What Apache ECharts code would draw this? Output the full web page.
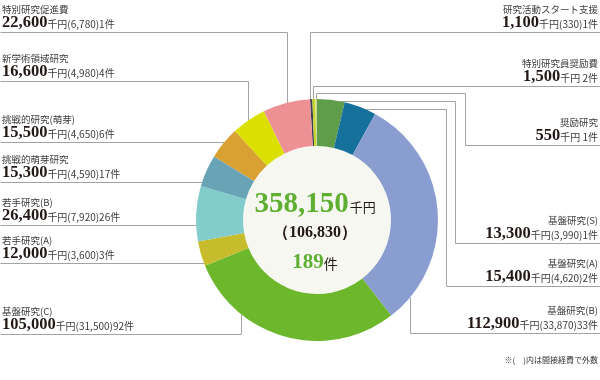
<!DOCTYPE html>
<html><head><meta charset="utf-8">
<script src="https://cdn.jsdelivr.net/npm/echarts@6/dist/echarts.min.js"></script>
<style>html,body{margin:0;padding:0;background:#fff}#c{width:600px;height:380px}</style>
</head><body><div id="c"></div>
<script>
// ---- data (clockwise from top) ----
const names = ['研究活動スタート支援','特別研究員奨励費','奨励研究','基盤研究(S)','基盤研究(A)','基盤研究(B)','基盤研究(C)','若手研究(A)','若手研究(B)','挑戦的萌芽研究','挑戦的研究(萌芽)','新学術領域研究','特別研究促進費'];
const amounts = [1100,1500,550,13300,15400,112900,105000,12000,26400,15300,15500,16600,22600];
const indirect = [330,null,null,3990,4620,33870,31500,3600,7920,4590,4650,4980,6780];
const counts = [1,2,1,1,2,33,92,3,26,17,6,4,1];
const colors = ['#3b3f58','#c3d52c','#e2e89a','#5f9d4b','#15709b','#8a9dd0','#6db72d','#c7bc2b','#82cdcc','#68a4b6','#d9a132','#dbe000','#ee9195'];
const unitLabel = '千円', countLabel = '件';
const noteText = '※(　)内は間接経費で外数';

// ---- layout (positions only) ----
const CX = 317, CY = 220, R = 121, R0 = 74;
const sides = ['R','R','R','R','R','R','L','L','L','L','L','L','L'];
const underlineY = [32,86,145,243,286,333,334,263,225,182,142,81,32];
const leaders = [
  [[600,32],[310,32],'v'],
  [[600,86],[313,86],'v'],
  [[600,145],[465,145],[465,93],[316,93],'v'],
  [[600,243],[455,243],[455,101],'hR'],
  [[600,286],[446,286],[446,109],'hR'],
  [[600,333],[410,333],'vB'],
  [[0,334],[241,334],'vB'],
  [[0,263],'hL'],
  [[0,225],'hL'],
  [[0,182],'hL'],
  [[0,142],'hL'],
  [[0,81],[248,81],'v'],
  [[0,32],[287,32],'v']
];

const fmt = n => n.toLocaleString('en-US');
const totalAmount = amounts.reduce((a,b)=>a+b,0);
const totalIndirect = indirect.reduce((a,b)=>a+(b||0),0);
const totalCount = counts.reduce((a,b)=>a+b,0);

const SANS = '"Noto Sans CJK JP","Noto Sans",sans-serif';
const SERIF = '"Liberation Serif","DejaVu Serif",serif';
const DARK = '#231815';
const GREEN = '#5fb032';

function leaderPoints(spec){
  const pts = [];
  let last = null;
  spec.forEach(p=>{
    if (Array.isArray(p)) { pts.push(p); last = p; }
    else {
      const [x,y] = last;
      if (p==='v') pts.push([x, CY - Math.sqrt(R*R-(x-CX)*(x-CX))]);
      else if (p==='vB') pts.push([x, CY + Math.sqrt(R*R-(x-CX)*(x-CX))]);
      else if (p==='hR') pts.push([CX + Math.sqrt(R*R-(y-CY)*(y-CY)), y]);
      else if (p==='hL') pts.push([CX - Math.sqrt(R*R-(y-CY)*(y-CY)), y]);
    }
  });
  return pts.map(([x,y])=>[Math.round(x)+0.5, Math.round(y)+0.5]);
}

const graphics = [];
graphics.push({type:'circle', silent:true, z:1, shape:{cx:CX, cy:CY, r:R0}, style:{fill:'#f7f7f2'}});
leaders.forEach(l=>{
  graphics.push({type:'polyline', silent:true, z:0, shape:{points:leaderPoints(l)}, style:{stroke:'#a3a3a3', lineWidth:1, fill:null}});
});
graphics.push({type:'text', silent:true, z:10, style:{
  text:'{a|'+fmt(totalAmount)+'}{b|'+unitLabel+'}', x:CX-2, y:205, align:'center', verticalAlign:'middle',
  rich:{a:{fontSize:29, fontFamily:SERIF, fontWeight:'bold', fill:GREEN}, b:{fontSize:13, fontFamily:SANS, fill:DARK, padding:[5,0,0,1]}}
}});
graphics.push({type:'text', silent:true, z:10, style:{
  text:'（'+fmt(totalIndirect)+'）', x:CX-2, y:233, align:'center', verticalAlign:'middle',
  fontSize:16, fontFamily:SERIF, fontWeight:'bold', fill:DARK
}});
graphics.push({type:'text', silent:true, z:10, style:{
  text:'{a|'+totalCount+'}{b|'+countLabel+'}', x:CX-2, y:263, align:'center', verticalAlign:'middle',
  rich:{a:{fontSize:21, fontFamily:SERIF, fontWeight:'bold', fill:GREEN}, b:{fontSize:14, fontFamily:SANS, fill:DARK, padding:[2,0,0,0]}}
}});
graphics.push({type:'text', silent:true, z:10, style:{
  text:noteText, x:598, y:360, align:'right', verticalAlign:'middle', fontSize:8, fontFamily:SANS, fill:'#333'
}});

const chart = echarts.init(document.getElementById('c'), null, {renderer:'canvas'});
chart.setOption({
  animation:false,
  backgroundColor:'#fff',
  graphic: graphics,
  series:[{
    type:'pie', z:5, silent:true,
    center:[CX,CY], radius:[R0,R], startAngle:93.3, clockwise:true,
    avoidLabelOverlap:false,
    data: names.map((n,i)=>({name:n, value:amounts[i], itemStyle:{color:colors[i]}})),
    itemStyle:{borderWidth:0},
    emphasis:{disabled:true},
    labelLine:{show:false},
    label:{
      show:true, position:'outside',
      formatter: p => {
        const i = p.dataIndex;
        const extra = (indirect[i]!=null ? '('+fmt(indirect[i])+')' : ' ') + counts[i] + countLabel;
        return '{n|'+names[i]+'}\n{v|'+fmt(amounts[i])+'}{u|'+unitLabel+extra+'}';
      },
      rich:{
        n:{fontSize:9.5, fontFamily:SANS, color:'#3c3c3c', lineHeight:11},
        v:{fontSize:16.5, fontFamily:SERIF, fontWeight:'bold', color:DARK, lineHeight:15},
        u:{fontSize:10, fontFamily:SANS, color:'#3c3c3c', lineHeight:15, padding:[3,0,0,0]}
      }
    },
    labelLayout: p => {
      const i = p.dataIndex;
      return sides[i]==='L'
        ? {x:2, y:underlineY[i]-2, align:'left', verticalAlign:'bottom'}
        : {x:598, y:underlineY[i]-2, align:'right', verticalAlign:'bottom'};
    }
  }]
});
</script>
</body></html>
